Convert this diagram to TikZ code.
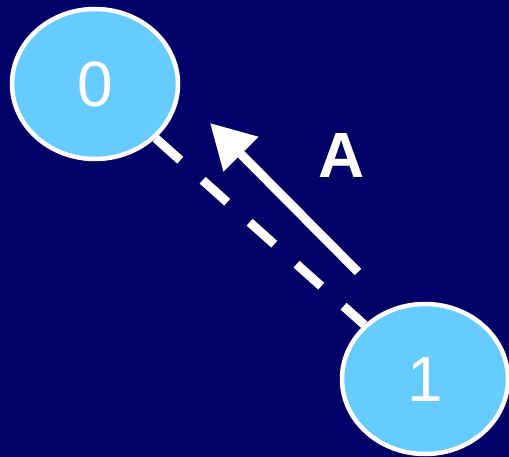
\documentclass[tikz,border=0pt]{standalone}
\usepackage{fontspec}
\setmainfont{Liberation Sans}
\usetikzlibrary{shapes.geometric,arrows.meta}
\definecolor{navy}{HTML}{000066}
\definecolor{statefill}{HTML}{66CCFF}
\begin{document}
\begin{tikzpicture}[x=1pt,y=-1pt,
  state/.style={ellipse, draw=white, line width=4.5pt, fill=statefill,
    minimum width=166pt, minimum height=150pt, inner sep=0pt,
    text=white, font=\fontsize{64}{64}\selectfont},
  link/.style={draw=white, line width=9pt, dash pattern=on 33pt off 30pt},
  move/.style={draw=white, line width=9pt, -{Triangle[length=44pt,width=47pt]}},
  tag/.style={text=white, font=\bfseries\fontsize{64}{64}\selectfont, inner sep=0pt}]
  \fill[navy] (0,0) rectangle (509,457);
  \clip (0,0) rectangle (509,457);
  \useasboundingbox (0,0) rectangle (509,457);
  \node[state] (s0) at (95,84) {0};
  \node[state] (s1) at (425,379) {1};
  \draw[link] (s0) -- (s1);
  \coordinate (mstart) at (358,272);
  \coordinate (mend) at (210,123);
  \draw[move] (mstart) -- (mend);
  \node[tag] (lbl) at (342,155) {A};
\end{tikzpicture}
\end{document}
